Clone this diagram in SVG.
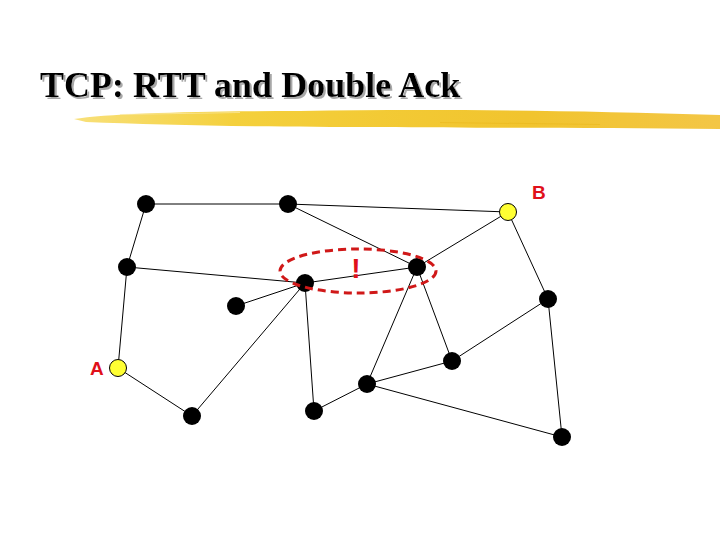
<svg xmlns="http://www.w3.org/2000/svg" width="720" height="540" viewBox="0 0 720 540">
<defs>
<linearGradient id="hl" x1="0" y1="0" x2="1" y2="0">
<stop offset="0" stop-color="#f8e07a"/>
<stop offset="0.25" stop-color="#f4d03c"/>
<stop offset="0.7" stop-color="#f1c42e"/>
<stop offset="1" stop-color="#f3c646"/>
</linearGradient>
<filter id="shadow" x="-5%" y="-20%" width="110%" height="140%">
<feDropShadow dx="2" dy="2" stdDeviation="0.3" flood-color="#a8a8a8" flood-opacity="1"/>
</filter>
</defs>
<style>
.title{font-family:"Liberation Serif","Times New Roman",serif;font-weight:bold;font-size:36px}
.n{fill:#000}
.y{fill:#ffff33;stroke:#000;stroke-width:1}
.lbl{font-family:"Liberation Sans",Arial,sans-serif;font-weight:bold;font-size:19px;fill:#e0101a}
#edges line{stroke:#000;stroke-width:1}
</style>
<rect width="720" height="540" fill="#fff"/>
<g id="title">
<text class="title" x="40" y="97" fill="#000" filter="url(#shadow)">TCP: RTT and Double Ack</text>
</g>
<g id="highlight">
<path d="M74,119 C110,113 200,111 300,111 C420,109 560,110 720,115 L720,129 C600,128 480,128 380,127 C260,127 160,125 86,122 Z" fill="url(#hl)"/>
<path d="M120,114 L240,112 L240,113 L120,115 Z" fill="#f9e9a8" opacity="0.7"/>
<path d="M440,122 L600,124 L600,125 L440,123 Z" fill="#e9b81c" opacity="0.6"/>
</g>
<g id="edges">
<line x1="146" y1="204" x2="288" y2="204"/>
<line x1="146" y1="204" x2="127" y2="267"/>
<line x1="288" y1="204" x2="508" y2="212"/>
<line x1="288" y1="204" x2="417" y2="267"/>
<line x1="508" y1="212" x2="417" y2="267"/>
<line x1="508" y1="212" x2="548" y2="299"/>
<line x1="127" y1="267" x2="305" y2="283"/>
<line x1="127" y1="267" x2="118" y2="368"/>
<line x1="305" y1="283" x2="417" y2="267"/>
<line x1="305" y1="283" x2="236" y2="306"/>
<line x1="305" y1="283" x2="192" y2="416"/>
<line x1="305" y1="283" x2="314" y2="411"/>
<line x1="417" y1="267" x2="367" y2="384"/>
<line x1="417" y1="267" x2="452" y2="361"/>
<line x1="548" y1="299" x2="452" y2="361"/>
<line x1="548" y1="299" x2="562" y2="437"/>
<line x1="118" y1="368" x2="192" y2="416"/>
<line x1="452" y1="361" x2="367" y2="384"/>
<line x1="367" y1="384" x2="314" y2="411"/>
<line x1="367" y1="384" x2="562" y2="437"/>
</g>
<g id="n1"><circle class="n" cx="146" cy="204" r="9"/></g>
<g id="n2"><circle class="n" cx="288" cy="204" r="9"/></g>
<g id="nB"><circle class="y" cx="508" cy="212" r="8.5"/><text class="lbl" x="532" y="199">B</text></g>
<g id="n3"><circle class="n" cx="127" cy="267" r="9"/></g>
<g id="n4"><circle class="n" cx="305" cy="283" r="9"/></g>
<g id="n5"><circle class="n" cx="417" cy="267" r="9"/></g>
<g id="n6"><circle class="n" cx="236" cy="306" r="9"/></g>
<g id="n7"><circle class="n" cx="548" cy="299" r="9"/></g>
<g id="nA"><circle class="y" cx="118" cy="368" r="8.5"/><text class="lbl" x="90" y="375">A</text></g>
<g id="n8"><circle class="n" cx="452" cy="361" r="9"/></g>
<g id="n9"><circle class="n" cx="367" cy="384" r="9"/></g>
<g id="n10"><circle class="n" cx="192" cy="416" r="9"/></g>
<g id="n11"><circle class="n" cx="314" cy="411" r="9"/></g>
<g id="n12"><circle class="n" cx="562" cy="437" r="9"/></g>
<g id="failure">
<ellipse cx="358" cy="271" rx="78" ry="22" fill="none" stroke="#d01818" stroke-width="3" stroke-dasharray="8,5"/>
<text x="356" y="278" text-anchor="middle" font-family="Liberation Sans,Arial,sans-serif" font-weight="bold" font-size="28" fill="#e0101a">!</text>
</g>
</svg>
